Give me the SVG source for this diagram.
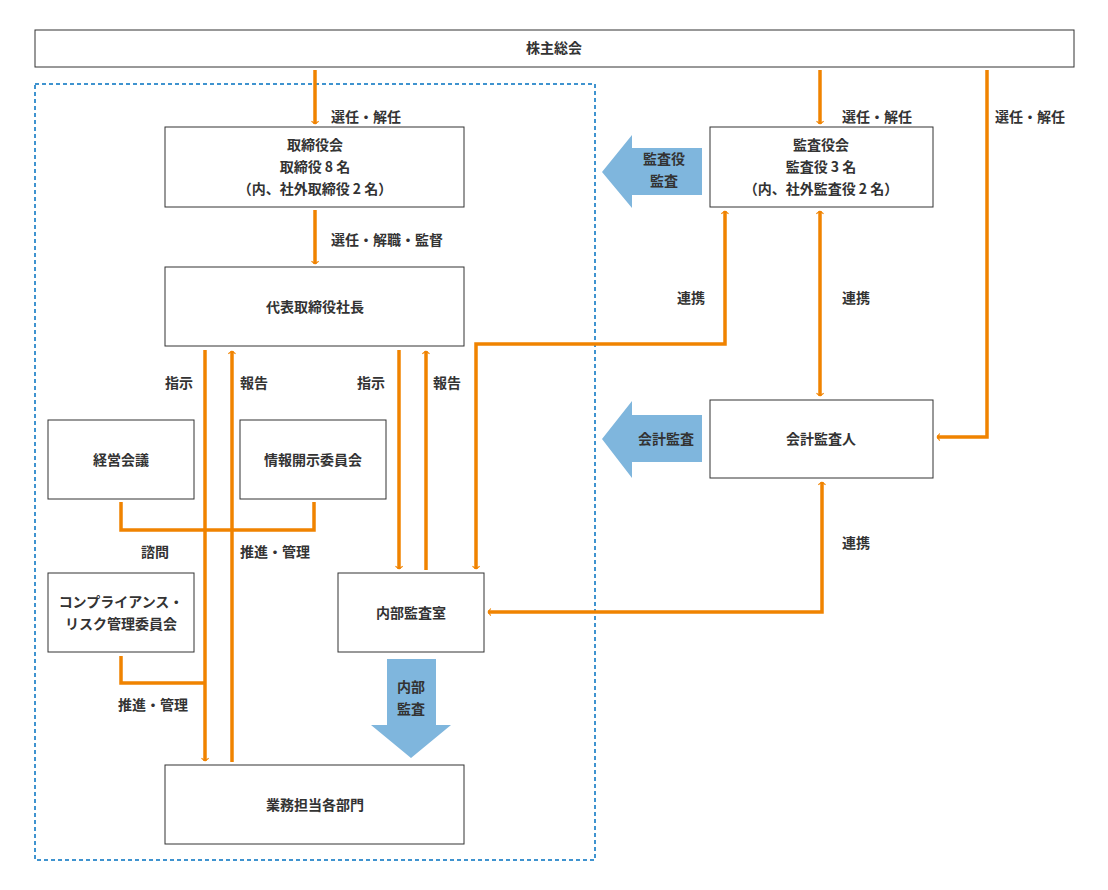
<svg xmlns="http://www.w3.org/2000/svg" width="1108" height="890" viewBox="0 0 1108 890">
<style>
text{font-family:"Noto Sans CJK JP","Noto Sans",sans-serif;font-weight:bold;font-size:14px;fill:#333}
.b{fill:#fff;stroke:#333;stroke-width:1}
.c{fill:none;stroke:#f08300;stroke-width:3.5}
.m text,.n text{text-anchor:middle}
.bl{fill:#7fb6dd}
</style>
<defs>
<marker id="a" viewBox="0 0 20 20" refX="10" refY="10" markerWidth="6" markerHeight="6" markerUnits="userSpaceOnUse" orient="auto-start-reverse" overflow="visible"><path d="M-2,-6 L10,10 L-2,26" transform="scale(0.75) translate(3,3)" fill="none" stroke="#f08300" stroke-width="4.5"/></marker>
</defs>
<rect width="1108" height="890" fill="#fff"/>
<rect x="35" y="84" width="560" height="776" fill="none" stroke="#0070c0" stroke-width="1.5" stroke-dasharray="4,3"/>
<g id="connectors">
<path class="c" d="M315,70V124" marker-end="url(#a)"/>
<path class="c" d="M315,210V264" marker-end="url(#a)"/>
<path class="c" d="M205,350V761" marker-end="url(#a)"/>
<path class="c" d="M232,762V351" marker-end="url(#a)"/>
<path class="c" d="M399,350V569" marker-end="url(#a)"/>
<path class="c" d="M426,570V351" marker-end="url(#a)"/>
<path class="c" d="M820,70V124" marker-end="url(#a)"/>
<path class="c" d="M987,70V437H937" marker-end="url(#a)"/>
<path class="c" d="M725,211V344H476V569" marker-start="url(#a)" marker-end="url(#a)"/>
<path class="c" d="M820,211V396" marker-start="url(#a)" marker-end="url(#a)"/>
<path class="c" d="M822,482V612H488" marker-start="url(#a)" marker-end="url(#a)"/>
<path class="c" d="M121,502V530H314V502"/>
<path class="c" d="M121,656V683H205"/>
<path class="bl" d="M702,148H632V135L602,172L632,208V195H702Z"/>
<path class="bl" d="M702,415H632V401L602,439L632,478V462H702Z"/>
<path class="bl" d="M387,659H436V725H451L411,758L371,725H387Z"/>
<text x="331" y="122">選任・解任</text>
<text x="331" y="245">選任・解職・監督</text>
<text x="165" y="388">指示</text>
<text x="240" y="388">報告</text>
<text x="357" y="388">指示</text>
<text x="433" y="388">報告</text>
<text x="141" y="557">諮問</text>
<text x="240" y="557">推進・管理</text>
<text x="118" y="710">推進・管理</text>
<text x="842" y="122">選任・解任</text>
<text x="995" y="122">選任・解任</text>
<text x="677" y="303">連携</text>
<text x="842" y="303">連携</text>
<text x="842" y="548">連携</text>
<g class="m"><text x="664" y="164">監査役</text><text x="664" y="186">監査</text><text x="666" y="444">会計監査</text><text x="411" y="692">内部</text><text x="411" y="714">監査</text></g>
</g>
<g class="n">
<g id="n1"><rect class="b" x="35" y="30" width="1039" height="37"/><text x="554" y="53">株主総会</text></g>
<g id="n2"><rect class="b" x="165" y="127" width="299" height="80"/><text x="315" y="150">取締役会</text><text x="315" y="172">取締役 8 名</text><text x="315" y="194">（内、社外取締役 2 名）</text></g>
<g id="n3"><rect class="b" x="165" y="267" width="299" height="79"/><text x="315" y="312">代表取締役社長</text></g>
<g id="n4"><rect class="b" x="48" y="420" width="146" height="79"/><text x="121" y="465">経営会議</text></g>
<g id="n5"><rect class="b" x="240" y="420" width="146" height="79"/><text x="313" y="465">情報開示委員会</text></g>
<g id="n6"><rect class="b" x="48" y="573" width="146" height="79"/><text x="121" y="607">コンプライアンス・</text><text x="121" y="629">リスク管理委員会</text></g>
<g id="n7"><rect class="b" x="338" y="573" width="146" height="79"/><text x="411" y="618">内部監査室</text></g>
<g id="n8"><rect class="b" x="165" y="765" width="299" height="79"/><text x="315" y="810">業務担当各部門</text></g>
<g id="n9"><rect class="b" x="710" y="127" width="223" height="80"/><text x="821" y="150">監査役会</text><text x="821" y="172">監査役 3 名</text><text x="821" y="194">（内、社外監査役 2 名）</text></g>
<g id="n10"><rect class="b" x="710" y="400" width="223" height="78"/><text x="821" y="444">会計監査人</text></g>
</g>
</svg>
